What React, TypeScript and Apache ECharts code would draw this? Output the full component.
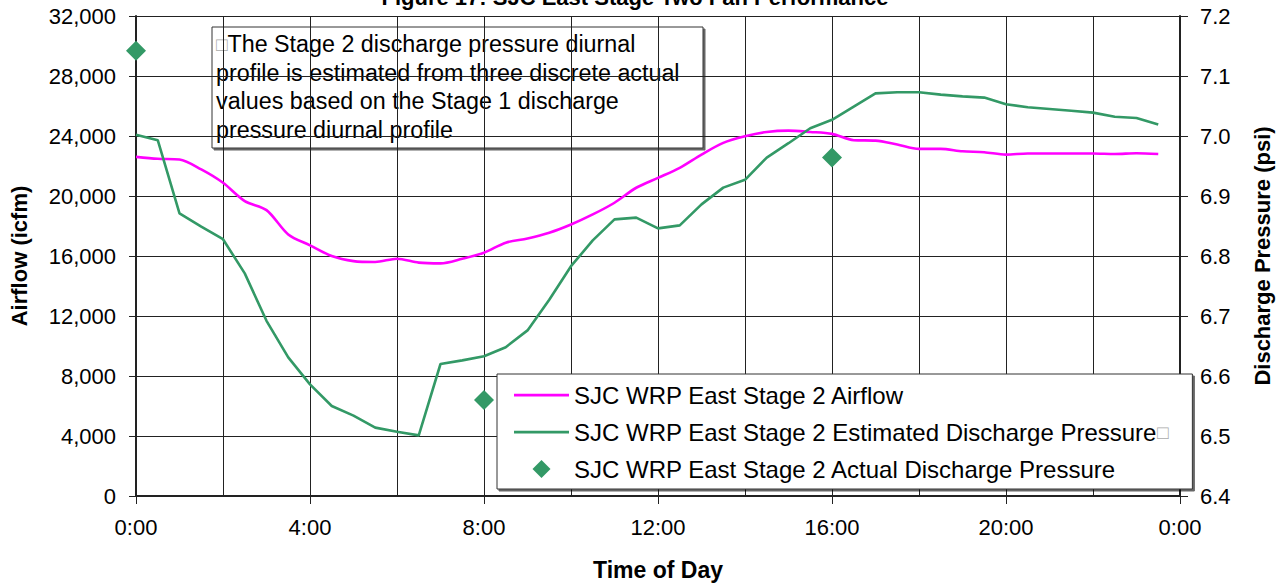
import React, { useEffect, useRef } from "react";
import * as echarts from "echarts";

const FONT = "'Liberation Sans', Arial, sans-serif";

const titleText = "Figure 17: SJC East Stage Two Fan Performance";
const xAxisName = "Time of Day";
const leftAxisName = "Airflow (icfm)";
const rightAxisName = "Discharge Pressure (psi)";
const noteLines = [
  "The Stage 2 discharge pressure diurnal",
  "profile is estimated from three discrete actual",
  "values based on the Stage 1 discharge",
  "pressure diurnal profile",
];

const seriesNames = [
  "SJC WRP East Stage 2 Airflow",
  "SJC WRP East Stage 2 Estimated Discharge Pressure",
  "SJC WRP East Stage 2 Actual Discharge Pressure",
];

// hours of day, every 30 minutes
const hours = [
  0, 0.5, 1, 1.5, 2, 2.5, 3, 3.5, 4, 4.5, 5, 5.5, 6, 6.5, 7, 7.5, 8, 8.5, 9, 9.5,
  10, 10.5, 11, 11.5, 12, 12.5, 13, 13.5, 14, 14.5, 15, 15.5, 16, 16.5, 17, 17.5,
  18, 18.5, 19, 19.5, 20, 20.5, 21, 21.5, 22, 22.5, 23, 23.5,
];

const airflow = [
  22610, 22480, 22430, 21770, 20880, 19660, 19060, 17440, 16710, 16000, 15660,
  15600, 15820, 15560, 15510, 15820, 16220, 16890, 17170, 17550, 18100, 18770,
  19550, 20550, 21210, 21880, 22760, 23540, 23980, 24270, 24360, 24270, 24140,
  23720, 23690, 23430, 23140, 23140, 22980, 22920, 22760, 22830, 22830, 22830,
  22830, 22800, 22850, 22800,
];

const estPressure = [
  7.002, 6.993, 6.871, 6.849, 6.828, 6.771, 6.692, 6.631, 6.586, 6.55, 6.534,
  6.514, 6.507, 6.501, 6.62, 6.626, 6.633, 6.648, 6.676, 6.727, 6.783, 6.826,
  6.861, 6.864, 6.846, 6.851, 6.886, 6.914, 6.927, 6.964, 6.988, 7.013, 7.027,
  7.049, 7.071, 7.073, 7.073, 7.069, 7.066, 7.064, 7.053, 7.048, 7.045, 7.042,
  7.039, 7.032, 7.03, 7.019,
];

const actualHours = [0, 8, 16];
const actualPressure = [7.142, 6.56, 6.964];

const LINE_ICON = "path://M0,0 L60,0 L60,3 L0,3 Z";
const DIAMOND_ICON = "path://M8,0 L16,8 L8,16 L0,8 Z";

export default function App() {
  const ref = useRef<HTMLDivElement>(null);

  useEffect(() => {
    if (!ref.current) return;
    const chart = echarts.init(ref.current, null, { renderer: "svg" });

    const option = {
      animation: false,
      backgroundColor: "#fff",
      textStyle: { fontFamily: FONT },
      grid: { left: 134, right: 100, top: 16, bottom: 89, containLabel: false },
      graphic: [
        {
          type: "text",
          x: 635,
          y: 8,
          z: 100,
          style: {
            text: titleText,
            font: `bold 22px ${FONT}`,
            fill: "#000",
            align: "center",
            verticalAlign: "bottom",
          },
        },
        {
          type: "group",
          z: 100,
          children: [
            {
              type: "rect",
              shape: { x: 212, y: 27, width: 491, height: 121 },
              style: {
                fill: "#fff",
                stroke: "#333",
                lineWidth: 1,
                shadowColor: "rgba(0,0,0,0.6)",
                shadowOffsetX: 2,
                shadowOffsetY: 2,
                shadowBlur: 0,
              },
            },
            {
              type: "text",
              x: 216,
              y: 30,
              style: {
                text: "{g|\u25A1}" + noteLines.join("\n"),
                font: `23.3px ${FONT}`,
                fill: "#000",
                lineHeight: 28.5,
                rich: {
                  g: { fontSize: 19, fill: "#aaa", lineHeight: 28.5, fontFamily: FONT },
                },
              },
            },
          ],
        },
      ],
      legend: {
        orient: "vertical",
        left: 497,
        top: 374,
        padding: [9, 24, 8, 17],
        itemWidth: 55,
        itemHeight: 18,
        itemGap: 13,
        symbolKeepAspect: true,
        backgroundColor: "#fff",
        borderColor: "#333",
        borderWidth: 1,
        shadowColor: "rgba(0,0,0,0.6)",
        shadowOffsetX: 2,
        shadowOffsetY: 2,
        shadowBlur: 0,
        data: [
          { name: seriesNames[0], icon: LINE_ICON },
          { name: seriesNames[1], icon: LINE_ICON },
          { name: seriesNames[2], icon: DIAMOND_ICON, itemStyle: { opacity: 1 } },
        ],
        formatter: (name: string) =>
          name === seriesNames[1] ? name + "{g|\u25A1}" : name,
        textStyle: {
          fontFamily: FONT,
          fontSize: 24,
          color: "#000",
          rich: { g: { fontSize: 19, color: "#aaa", fontFamily: FONT } },
        },
      },
      xAxis: {
        type: "value",
        min: 0,
        max: 24,
        interval: 4,
        name: xAxisName,
        nameLocation: "middle",
        nameGap: 62,
        nameTextStyle: { fontFamily: FONT, fontSize: 23, fontWeight: "bold", color: "#000" },
        axisLine: { show: true, onZero: false, lineStyle: { color: "#222", width: 2 } },
        axisTick: { show: true, inside: false, length: 8, lineStyle: { color: "#222", width: 1 } },
        minorTick: { show: false, splitNumber: 2 },
        minorSplitLine: { show: true, lineStyle: { color: "#222", width: 1 } },
        splitLine: { show: true, lineStyle: { color: "#222", width: 1 } },
        axisLabel: {
          fontFamily: FONT,
          fontSize: 22,
          color: "#000",
          margin: 20,
          formatter: (v: number) => `${v % 24}:00`,
        },
      },
      yAxis: [
        {
          type: "value",
          min: 0,
          max: 32000,
          interval: 4000,
          position: "left",
          name: leftAxisName,
          nameLocation: "middle",
          nameGap: 106,
          nameTextStyle: { fontFamily: FONT, fontSize: 22, fontWeight: "bold", color: "#000" },
          axisLine: { show: true, lineStyle: { color: "#222", width: 2 } },
          axisTick: { show: true, inside: false, length: 7, lineStyle: { color: "#222", width: 1 } },
          splitLine: { show: true, lineStyle: { color: "#222", width: 1 } },
          axisLabel: {
            fontFamily: FONT,
            fontSize: 22,
            color: "#000",
            margin: 20,
            formatter: (v: number) => v.toLocaleString("en-US"),
          },
        },
        {
          type: "value",
          min: 6.4,
          max: 7.2,
          interval: 0.1,
          position: "right",
          name: rightAxisName,
          nameLocation: "middle",
          nameGap: 71,
          nameTextStyle: { fontFamily: FONT, fontSize: 22, fontWeight: "bold", color: "#000" },
          axisLine: { show: true, lineStyle: { color: "#222", width: 2 } },
          axisTick: { show: true, inside: false, length: 8, lineStyle: { color: "#222", width: 1 } },
          splitLine: { show: false },
          axisLabel: {
            fontFamily: FONT,
            fontSize: 22,
            color: "#000",
            margin: 20,
            formatter: (v: number) => v.toFixed(1),
          },
        },
      ],
      series: [
        {
          name: seriesNames[0],
          type: "line",
          yAxisIndex: 0,
          data: hours.map((h, i) => [h, airflow[i]]),
          smooth: 0.3,
          symbol: "none",
          lineStyle: { color: "#FF00FF", width: 2.6 },
          itemStyle: { color: "#FF00FF" },
          z: 3,
        },
        {
          name: seriesNames[1],
          type: "line",
          yAxisIndex: 1,
          data: hours.map((h, i) => [h, estPressure[i]]),
          symbol: "none",
          lineStyle: { color: "#339966", width: 2.6 },
          itemStyle: { color: "#339966" },
          z: 3,
        },
        {
          name: seriesNames[2],
          type: "scatter",
          yAxisIndex: 1,
          data: actualHours.map((h, i) => [h, actualPressure[i]]),
          symbol: "diamond",
          symbolSize: 20,
          itemStyle: { color: "#339966", opacity: 1 },
          z: 4,
        },
      ],
    };

    chart.setOption(option as any);
    return () => chart.dispose();
  }, []);

  return (
    <div
      ref={ref}
      style={{ position: "fixed", left: 0, top: 0, width: 1281, height: 586 }}
    />
  );
}
